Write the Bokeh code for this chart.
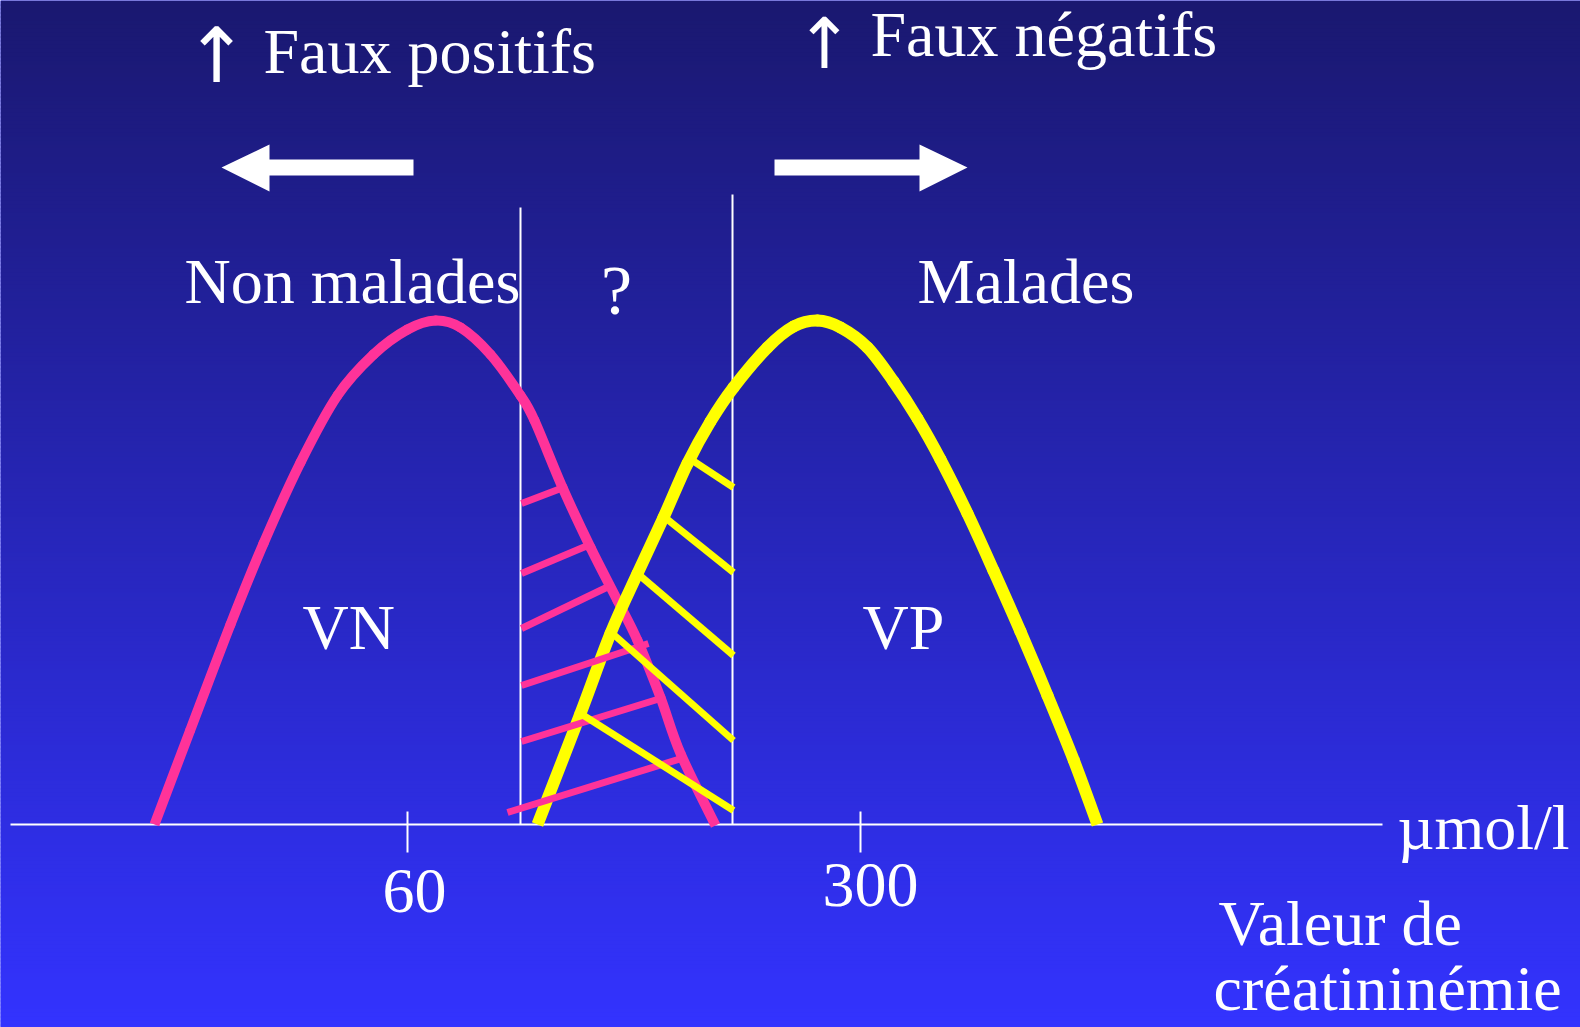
from bokeh.plotting import figure
from bokeh.models import Range1d
from bokeh.core.properties import value
from bokeh.embed import file_html
from bokeh.resources import INLINE

W, H = 1580, 1027

# --- Distribution curves (slide coordinates, y grows downward) ---
non_malades_x = [154, 190, 230, 263, 300, 337, 373, 407, 435, 460, 490, 520, 534, 562, 590, 617, 637, 660, 680, 715]
non_malades_y = [824, 729, 624, 543, 462, 395, 354, 329, 320, 327, 354, 395, 420, 487, 547, 600, 640, 697, 753, 825]

malades_x = [537, 580, 610, 637, 663, 687, 710, 733, 767, 793, 817, 840, 867, 893, 917, 940, 967, 993, 1020, 1047, 1073, 1097]
malades_y = [824, 713, 633, 573, 517, 463, 421, 387, 347, 326, 320, 327, 347, 381, 418, 459, 513, 570, 631, 695, 759, 824]

# --- Hatching inside the grey zone ---
fp_hatch_x0 = [521, 521, 521, 521, 521, 507]
fp_hatch_y0 = [503, 573, 628, 685, 741, 812]
fp_hatch_x1 = [563, 592, 606, 648, 660, 684]
fp_hatch_y1 = [487, 543, 587, 643, 698, 757]

fn_hatch_x0 = [689, 662, 637, 612, 580]
fn_hatch_y0 = [458, 515, 573, 633, 713]
fn_hatch_x1 = [733, 733, 733, 733, 733]
fn_hatch_y1 = [487, 572, 655, 740, 810]

# --- Decision thresholds and axis ---
threshold_x = [520, 732]
threshold_top = [207, 194]
axis_y = 824
axis_x = [10, 1382]
tick_x = [407, 860]
tick_labels = ["60", "300"]

BG_TOP = (26, 24, 112)
BG_BOTTOM = (51, 51, 255)
PINK = "#ff3399"
YELLOW = "#ffff00"
FONT = value("Liberation Serif")
BASE_SHIFT = 21  # baseline correction for the serif font

p = figure(width=W, height=H, x_range=Range1d(0, W), y_range=Range1d(H, 0),
           output_backend="svg", toolbar_location=None, min_border=0,
           outline_line_color=None)
p.axis.visible = False
p.grid.visible = False
p.background_fill_color = "#3333ff"
p.border_fill_color = "#3333ff"

# vertical gradient background, drawn as thin overlapping bands
band = 4
tops, bottoms, colors = [], [], []
for y in range(0, H, band):
    t = y / (H - 1)
    r = round(BG_TOP[0] + (BG_BOTTOM[0] - BG_TOP[0]) * t)
    g = round(BG_TOP[1] + (BG_BOTTOM[1] - BG_TOP[1]) * t)
    b = round(BG_TOP[2] + (BG_BOTTOM[2] - BG_TOP[2]) * t)
    tops.append(y)
    bottoms.append(y + band + 1)
    colors.append("#%02x%02x%02x" % (r, g, b))
p.quad(left=0, right=W, top=tops, bottom=bottoms, fill_color=colors, line_color=None)

# axis line, ticks and thresholds
p.segment(x0=axis_x[0], y0=axis_y, x1=axis_x[1], y1=axis_y, line_color="white", line_width=2)
p.segment(x0=tick_x, y0=811, x1=tick_x, y1=852, line_color="white", line_width=2)
p.segment(x0=threshold_x, y0=threshold_top, x1=threshold_x, y1=axis_y, line_color="white", line_width=2)


def smooth_curve(xs, ys, color, width):
    """Draw a smooth curve through the points as Catmull-Rom bezier pieces."""
    n = len(xs)
    x0, y0, x1, y1, cx0, cy0, cx1, cy1 = ([] for _ in range(8))
    for i in range(n - 1):
        xa, ya = xs[max(i - 1, 0)], ys[max(i - 1, 0)]
        xb, yb = xs[i], ys[i]
        xc, yc = xs[i + 1], ys[i + 1]
        xd, yd = xs[min(i + 2, n - 1)], ys[min(i + 2, n - 1)]
        x0.append(xb); y0.append(yb); x1.append(xc); y1.append(yc)
        cx0.append(xb + (xc - xa) / 6); cy0.append(yb + (yc - ya) / 6)
        cx1.append(xc - (xd - xb) / 6); cy1.append(yc - (yd - yb) / 6)
    # inner pieces with round caps so the joints stay closed
    sl = slice(1, n - 2)
    p.bezier(x0=x0[sl], y0=y0[sl], x1=x1[sl], y1=y1[sl], cx0=cx0[sl], cy0=cy0[sl],
             cx1=cx1[sl], cy1=cy1[sl], line_color=color, line_width=width, line_cap="round")
    # end pieces with flat caps
    ends = [0, n - 2]
    p.bezier(x0=[x0[i] for i in ends], y0=[y0[i] for i in ends], x1=[x1[i] for i in ends],
             y1=[y1[i] for i in ends], cx0=[cx0[i] for i in ends], cy0=[cy0[i] for i in ends],
             cx1=[cx1[i] for i in ends], cy1=[cy1[i] for i in ends],
             line_color=color, line_width=width, line_cap="butt")


# curves and hatching
smooth_curve(non_malades_x, non_malades_y, PINK, 10)
smooth_curve(malades_x, malades_y, YELLOW, 12)
p.segment(x0=fp_hatch_x0, y0=fp_hatch_y0, x1=fp_hatch_x1, y1=fp_hatch_y1, line_color=PINK, line_width=7)
p.segment(x0=fn_hatch_x0, y0=fn_hatch_y0, x1=fn_hatch_x1, y1=fn_hatch_y1, line_color=YELLOW, line_width=7)

# block arrows
p.patch(x=[221, 269, 269, 413, 413, 269, 269], y=[167, 144, 159, 159, 175, 175, 191],
        fill_color="white", line_color=None)
p.patch(x=[774, 919, 919, 967, 919, 919, 774], y=[159, 159, 144, 167, 191, 175, 175],
        fill_color="white", line_color=None)


def label(x, y, txt, size="64px", align="left", font=FONT):
    p.text(x=[x], y=[y - BASE_SHIFT], text=[txt], text_font=font, text_font_size=size,
           text_color="white", text_align=align, text_baseline="alphabetic")


ARROW_FONT = value("DejaVu Sans")
label(216, 76, "↑", size="76px", align="center", font=ARROW_FONT)
label(263, 72, "Faux positifs")
label(824, 64, "↑", size="70px", align="center", font=ARROW_FONT)
label(870, 55, "Faux négatifs")
label(184, 302, "Non malades")
label(616, 311, "?", size="70px", align="center")
label(917, 302, "Malades")
label(302, 648, "VN")
label(862, 648, "VP")
label(414, 911, tick_labels[0], align="center")
label(870, 905, tick_labels[1], align="center")
label(1397, 848, "µmol/l")
label(1218, 944, "Valeur de")
label(1213, 1009, "créatininémie")

open("out.html", "w").write(file_html(p, INLINE))
